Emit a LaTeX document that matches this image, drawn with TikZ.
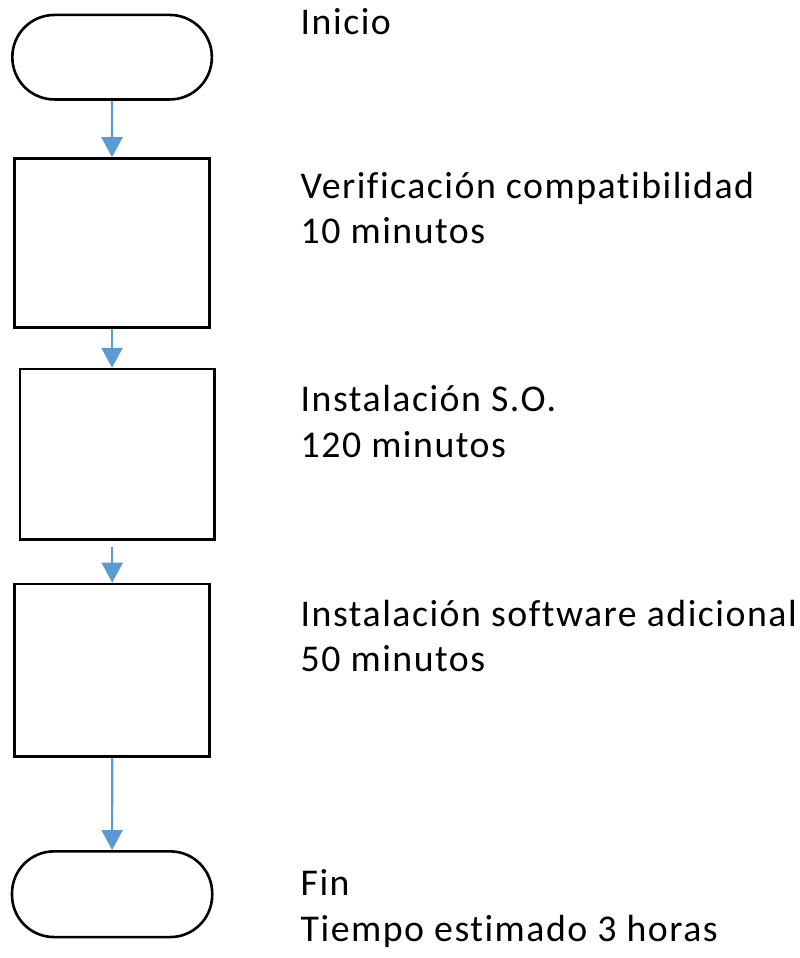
\documentclass[tikz,border=0pt]{standalone}
\usepackage{fontspec}
\setmainfont[LetterSpace=4,Ligatures=NoCommon]{Carlito}
\usetikzlibrary{arrows.meta}
\definecolor{flowblue}{HTML}{5B9BD5}
\begin{document}
\begin{tikzpicture}[x=1pt,y=-1pt,
  outline/.style={draw=black, line width=2.6pt, fill=white, inner sep=0pt},
  term/.style={outline, rounded corners=42pt},
  proc/.style={outline},
  flow/.style={draw=flowblue, line width=2.2pt, -{Triangle[width=21pt,length=20pt]}},
  lbl/.style={anchor=base west, inner sep=0pt, font=\fontsize{37.8}{45.5}\selectfont}
]
% page
\fill[white] (0,0) rectangle (800,958);
\useasboundingbox (0,0) rectangle (800,958);

% flowchart shapes
\node[term, minimum width=199.5pt, minimum height=84.5pt] (start) at (112.1,57.2) {};
\node[proc, minimum width=194.6pt, minimum height=169pt]  (b1) at (112,243) {};
\node[proc, minimum width=194.3pt, minimum height=170.3pt] (b2) at (117.2,454.2) {};
\node[proc, minimum width=195pt, minimum height=172.7pt]  (b3) at (112.2,670.3) {};
\node[term, minimum width=200.2pt, minimum height=85.7pt] (end) at (112.1,894.2) {};

% connectors
\draw[flow] (start.south) -- (b1.north);
\draw[flow] (b1.south) -- (b1.south |- b2.north);
\draw[flow] ([yshift=-6pt]b2.south -| b3.north) -- (b3.north);
\draw[flow] (b3.south) -- (end.north);

% step descriptions
\node[lbl] (tstart) at (300.5,35)  {Inicio};
\node[lbl] (t1a)    at (300.5,198) {Verificación compatibilidad};
\node[lbl] (t1b)    at (300.5,243) {10 minutos};
\node[lbl] (t2a)    at (300.5,411.5) {Instalación S.O.};
\node[lbl] (t2b)    at (300.5,457) {120 minutos};
\node[lbl] (t3a)    at (300.5,626) {Instalación software adicional};
\node[lbl] (t3b)    at (300.5,671) {50 minutos};
\node[lbl] (tenda)  at (300.5,895) {Fin};
\node[lbl] (tendb)  at (300.5,941) {Tiempo estimado 3 horas};
\end{tikzpicture}
\end{document}
